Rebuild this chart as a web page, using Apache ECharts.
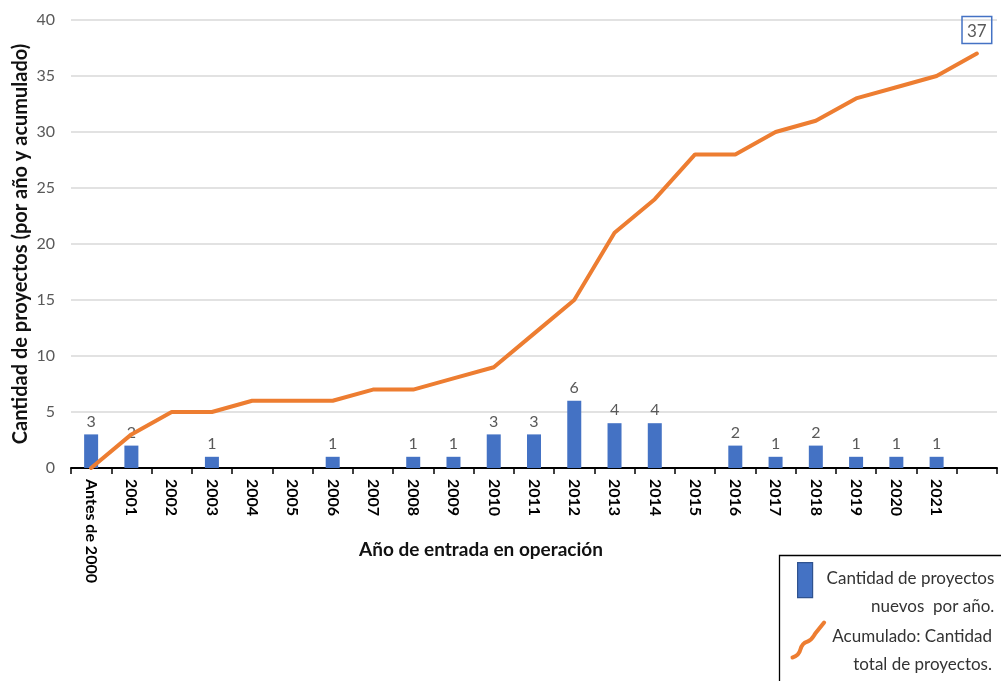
<!DOCTYPE html>
<html>
<head>
<meta charset="utf-8">
<script src="https://cdn.jsdelivr.net/npm/echarts@6/dist/echarts.min.js"></script>
<style>
  html, body { margin: 0; padding: 0; background: #fff; }
  #chart { width: 1001px; height: 681px; }
</style>
</head>
<body>
<div id="chart"></div>
<script>
// categorias del eje x (la última queda vacía, solo lleva el punto final del acumulado)
const categories = ['Antes de 2000', '2001', '2002', '2003', '2004', '2005', '2006', '2007', '2008', '2009',
  '2010', '2011', '2012', '2013', '2014', '2015', '2016', '2017', '2018', '2019', '2020', '2021', ''];
// proyectos nuevos por año
const nuevos = [3, 2, 0, 1, 0, 0, 1, 0, 1, 1, 3, 3, 6, 4, 4, 0, 2, 1, 2, 1, 1, 1, null];
// acumulado, tal como se lee en la línea
const acumulado = [0, 3, 5, 5, 6, 6, 6, 7, 7, 8, 9, 12, 15, 21, 24, 28, 28, 30, 31, 33, 34, 35, 37];
const yTicks = { min: 0, max: 40, interval: 5 };

const nombreBarras = 'Cantidad de proyectos\nnuevos  por año.';
const nombreLinea = 'Acumulado: Cantidad\ntotal de proyectos.';
const FONT = 'Lato, "Noto Sans", sans-serif';

const chart = echarts.init(document.getElementById('chart'));
const last = acumulado.length - 1;

// texto de leyenda alineado a la derecha, como en el original
function legendText (name) {
  return name.split('\n').map(l => '{r|' + l + '}').join('\n');
}

const option = {
  animation: false,
  textStyle: { fontFamily: FONT },
  grid: { left: 71, right: 4, top: 20, bottom: 213 },
  graphic: [{
    type: 'rect',
    shape: { x: 779.5, y: 555.5, width: 260, height: 200 },
    style: { fill: '#fff', stroke: '#000', lineWidth: 1.3 },
    z: 1,
  }],
  legend: [
    {
      data: [nombreBarras],
      left: 797,
      top: 562,
      padding: 0,
      itemWidth: 15,
      itemHeight: 35,
      icon: 'rect',
      itemStyle: { borderColor: '#2F528F', borderWidth: 1.2 },
      formatter: legendText,
      textStyle: {
        padding: [25, 0, 0, 9],
        rich: { r: { align: 'right', fontSize: 17, lineHeight: 28, color: '#333', fontFamily: FONT } },
      },
      selectedMode: false,
    },
    {
      data: [nombreLinea],
      left: 790,
      top: 620,
      padding: 0,
      itemWidth: 32,
      itemHeight: 35,
      icon: 'path://M2,33 C6,32 8,30 9,26 C10,22 12,20 15,19 C19,18 20,15 22,12 L30,2',
      itemStyle: { color: 'none', borderColor: '#ED7D31', borderWidth: 4, borderCap: 'round' },
      formatter: legendText,
      textStyle: {
        padding: [21, 0, 0, 3],
        rich: { r: { align: 'right', fontSize: 17, lineHeight: 28, color: '#333', fontFamily: FONT } },
      },
      selectedMode: false,
    },
  ],
  xAxis: {
    type: 'category',
    data: categories,
    name: 'Año de entrada en operación',
    nameLocation: 'middle',
    nameGap: 72,
    nameMoveOverlap: false,
    nameTextStyle: { fontSize: 19, fontWeight: 'bold', color: '#111', padding: [0, 106, 0, 0] },
    axisLine: { lineStyle: { color: '#000', width: 2 } },
    axisTick: { show: true, interval: 0, length: 6, lineStyle: { color: '#000', width: 1.5 } },
    axisLabel: { interval: 0, rotate: -90, margin: 11, fontSize: 16, fontWeight: 'bold', color: '#000' },
  },
  yAxis: {
    type: 'value',
    min: yTicks.min,
    max: yTicks.max,
    interval: yTicks.interval,
    name: 'Cantidad de proyectos (por año y acumulado)',
    nameLocation: 'middle',
    nameGap: 40,
    nameMoveOverlap: false,
    nameTextStyle: { fontSize: 20, fontWeight: 'bold', color: '#111' },
    axisLine: { show: false },
    axisTick: { show: false },
    axisLabel: { fontSize: 16, color: '#595959', margin: 16 },
    splitLine: { lineStyle: { color: '#D9D9D9', width: 1.5 } },
  },
  series: [
    {
      name: nombreBarras,
      type: 'bar',
      data: nuevos,
      barWidth: 14,
      itemStyle: { color: '#4472C4' },
      label: {
        show: true,
        position: 'top',
        distance: 5,
        fontSize: 16,
        color: '#595959',
        formatter: p => (p.value ? p.value : ''),
      },
      z: 2,
    },
    {
      name: nombreLinea,
      type: 'line',
      data: acumulado.map((v, i) => i === last ? {
        value: v,
        label: {
          show: true,
          position: 'top',
          distance: 10,
          fontSize: 17,
          color: '#595959',
          borderColor: '#4472C4',
          borderWidth: 1.5,
          padding: [6, 5, 4, 5],
        },
      } : v),
      symbol: 'circle',
      symbolSize: 0,
      showSymbol: true,
      lineStyle: { color: '#ED7D31', width: 4, cap: 'round' },
      itemStyle: { color: '#ED7D31' },
      z: 3,
    },
  ],
};

chart.setOption(option);
</script>
</body>
</html>
